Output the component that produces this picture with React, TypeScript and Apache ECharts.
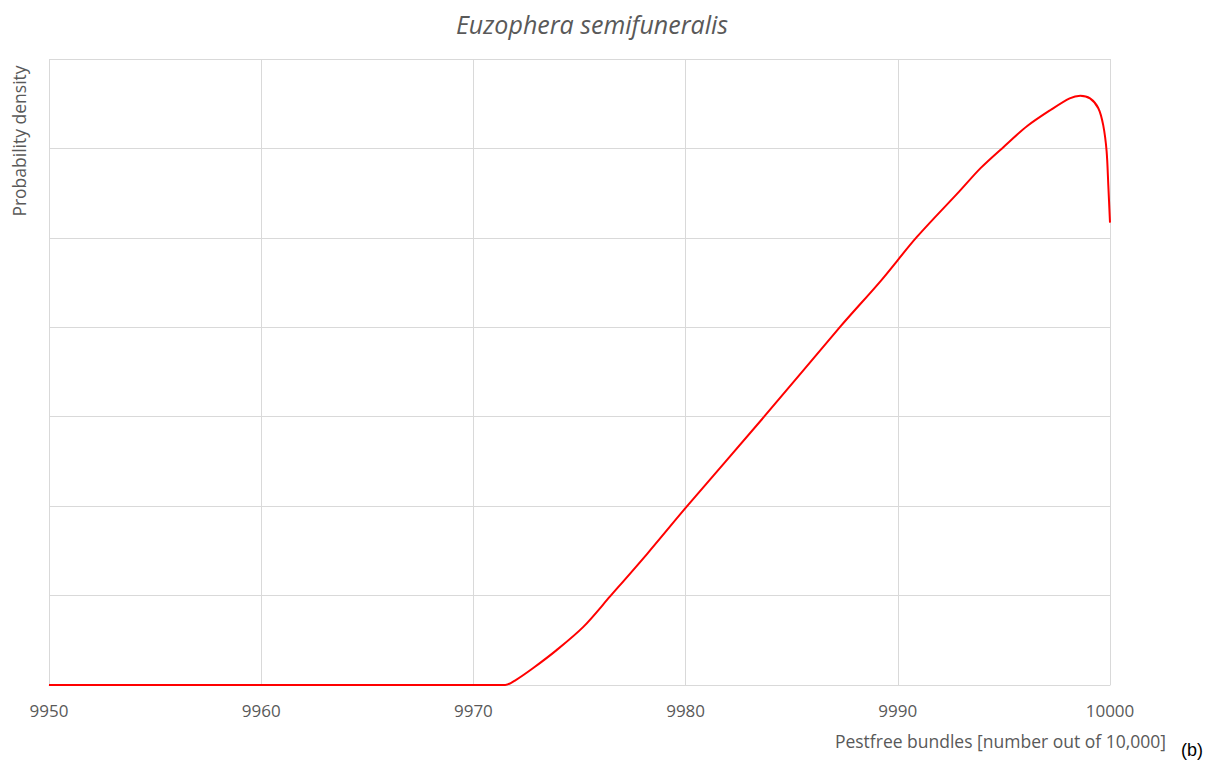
import React, { useEffect, useRef } from "react";
import * as echarts from "echarts";

const xValues = [
  9950, 9971.5, 9971.96, 9972.82, 9973.92, 9975.18, 9976.44, 9978.2, 9980,
  9983.7, 9987.3, 9989.2, 9990.9, 9992.9, 9993.9, 9995, 9996.1, 9997.2,
  9998.1, 9998.6, 9999.06, 9999.45, 9999.68, 9999.84, 9999.92, 10000,
];
const densityValues = [
  0, 0, 0.05, 0.19, 0.39, 0.65, 0.99, 1.47, 1.98, 3.0, 4.01, 4.52, 5.01, 5.52,
  5.78, 6.02, 6.25, 6.43, 6.56, 6.59, 6.56, 6.45, 6.26, 5.97, 5.59, 5.17,
];
const xTicks = [9950, 9960, 9970, 9980, 9990, 10000];

const titleText = "Euzophera semifuneralis";
const yName = "Probability density";
const xName = "Pestfree bundles [number out of 10,000]";
const panelTag = "(b)";

export default function App() {
  const ref = useRef<HTMLDivElement>(null);
  useEffect(() => {
    if (!ref.current) return;
    const chart = echarts.init(ref.current, null, { renderer: "svg" });
    const data = xValues.map((x, i) => [x, densityValues[i]]);
    const font = "'Open Sans', sans-serif";
    chart.setOption({
      animation: false,
      backgroundColor: "#ffffff",
      grid: { left: 49, right: 105, top: 59, bottom: 79, containLabel: false },
      xAxis: {
        type: "value",
        min: xTicks[0],
        max: xTicks[xTicks.length - 1],
        interval: 10,
        axisLine: { show: true, lineStyle: { color: "#d9d9d9", width: 1 } },
        axisTick: { show: false },
        axisLabel: {
          color: "#595959",
          fontSize: 17,
          fontFamily: font,
          margin: 17,
          formatter: (v: number) => String(v),
        },
        splitLine: { show: true, lineStyle: { color: "#d9d9d9", width: 1 } },
      },
      yAxis: {
        type: "value",
        min: 0,
        max: 7,
        interval: 1,
        axisLine: { show: false },
        axisTick: { show: false },
        axisLabel: { show: false },
        splitLine: { show: true, lineStyle: { color: "#d9d9d9", width: 1 } },
      },
      series: [
        {
          type: "line",
          data,
          smooth: 0.3,
          showSymbol: false,
          lineStyle: { color: "#ff0000", width: 2 },
          z: 5,
        },
      ],
      graphic: [
        {
          type: "text",
          x: 592,
          y: 24,
          style: {
            text: titleText,
            fill: "#595959",
            font: `italic 25px ${font}`,
            align: "center",
            verticalAlign: "middle",
          },
        },
        {
          type: "text",
          x: 19,
          y: 141,
          rotation: Math.PI / 2,
          style: {
            text: yName,
            fill: "#595959",
            font: `17.5px ${font}`,
            align: "center",
            verticalAlign: "middle",
          },
        },
        {
          type: "text",
          x: 1166,
          y: 741,
          style: {
            text: xName,
            fill: "#595959",
            font: `17.5px ${font}`,
            align: "right",
            verticalAlign: "middle",
          },
        },
        {
          type: "text",
          x: 1192,
          y: 750,
          style: {
            text: panelTag,
            fill: "#000000",
            font: `18px 'Liberation Sans', Arial, sans-serif`,
            align: "center",
            verticalAlign: "middle",
          },
        },
      ],
    });
    return () => chart.dispose();
  }, []);
  return (
    <div
      ref={ref}
      style={{ position: "fixed", left: 0, top: 0, width: 1215, height: 764 }}
    />
  );
}
